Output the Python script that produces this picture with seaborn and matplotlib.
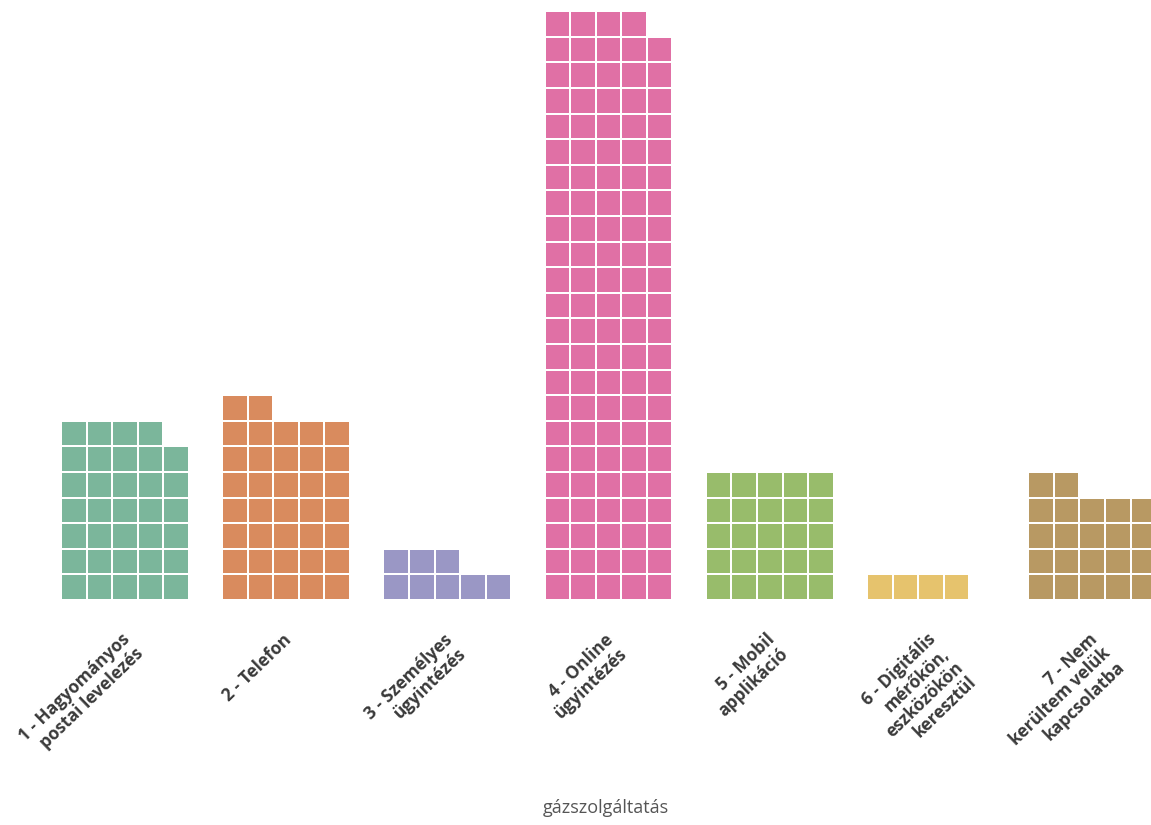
import numpy as np
import pandas as pd
import matplotlib
matplotlib.use("Agg")
import matplotlib.pyplot as plt
import seaborn as sns

# ---- data ----
categories = [
    "1 - Hagyományos\npostai levelezés",
    "2 - Telefon",
    "3 - Személyes\nügyintézés",
    "4 - Online\nügyintézés",
    "5 - Mobil\napplikáció",
    "6 - Digitális\nmérőkön,\neszközökön\nkeresztül",
    "7 - Nem\nkerültem velük\nkapcsolatba",
]
counts = [34, 37, 8, 114, 25, 4, 22]
colors = ["#7bb69b", "#d98b5e", "#9a97c5", "#e070a5", "#98bc6b", "#e6c36d", "#b89963"]
x_title = "gázszolgáltatás"

PER_ROW = 5
GROUP_STEP = 6.31
CELL = 0.92

sns.set_theme(style="white")
plt.rcParams["font.family"] = ["Open Sans", "DejaVu Sans"]

# build cell table from counts
rows = []
for ci, (cat, n) in enumerate(zip(categories, counts)):
    for k in range(n):
        rows.append({"cat": ci, "col": k % PER_ROW, "row": k // PER_ROW})
cells = pd.DataFrame(rows)
cells["x"] = cells["cat"] * GROUP_STEP + cells["col"] + (1 - CELL) / 2
cells["y"] = cells["row"] + (1 - CELL) / 2

W, H = 1151, 825
fig = plt.figure(figsize=(W / 100, H / 100), dpi=100)
left_px, bottom_px, top_px = 61, 600, 0
ax = fig.add_axes([left_px / W, (H - bottom_px) / H, (W - left_px) / W, (bottom_px - top_px) / H])

pal = sns.color_palette(colors)
for ci in range(len(categories)):
    sub = cells[cells["cat"] == ci]
    ax.bar(sub["x"], CELL, bottom=sub["y"], width=CELL, align="edge",
           color=pal[ci], linewidth=0)

ax.set_xlim(0, (W - left_px) / 25.55)
ax.set_ylim(0, (bottom_px - top_px) / 25.6)

ticks = [i * GROUP_STEP + PER_ROW / 2 - 0.15 for i in range(len(categories))]
ax.set_xticks(ticks)
ax.set_xticklabels(categories, rotation=44, ha="right", va="top",
                   rotation_mode="anchor", multialignment="right",
                   fontsize=12.5, fontweight="bold", color="#3a3a3a",
                   linespacing=1.1)
ax.tick_params(axis="x", length=0, pad=22)
ax.set_yticks([])
sns.despine(ax=ax, left=True, bottom=True)

ax.set_xlabel(x_title, fontsize=13, color="#555555", va="center")
ax.xaxis.set_label_coords(0.5, (bottom_px - 808) / (bottom_px - top_px))

fig.savefig("out.png", dpi=100)
